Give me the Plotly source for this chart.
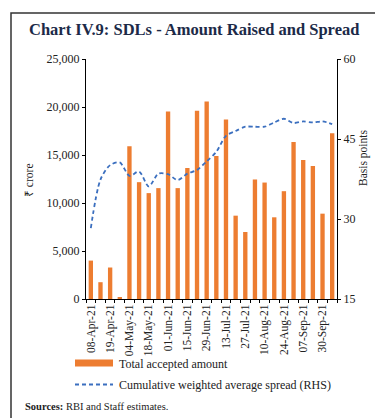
import plotly.graph_objects as go

# ---- data ----
dates = ["08-Apr-21", "13-Apr-21", "19-Apr-21", "27-Apr-21", "04-May-21", "11-May-21",
         "18-May-21", "25-May-21", "01-Jun-21", "08-Jun-21", "15-Jun-21", "22-Jun-21",
         "29-Jun-21", "06-Jul-21", "13-Jul-21", "20-Jul-21", "27-Jul-21", "03-Aug-21",
         "10-Aug-21", "17-Aug-21", "24-Aug-21", "31-Aug-21", "07-Sep-21", "14-Sep-21",
         "30-Sep-21", "05-Oct-21"]
amount_raised = [4000, 1750, 3280, 200, 15900, 12170, 11030, 11550, 19530, 11550,
                 13640, 19600, 20580, 14900, 18690, 8680, 6980, 12450, 12130, 8510,
                 11230, 16360, 14480, 13850, 8890, 17260]
spread_bp = [28.3, 37.4, 40.1, 40.6, 38.1, 38.9, 36.1, 38.5, 38.4, 37.3,
             38.5, 39.2, 40.8, 42.6, 45.6, 46.5, 47.3, 47.3, 47.3, 48.1,
             48.8, 48.0, 48.3, 48.1, 48.3, 47.8]
tick_text = [d if i % 2 == 0 else "" for i, d in enumerate(dates)]

# ---- layout helpers (pixel -> paper) ----
W, H = 383, 418
L, R, T, B = 78, 54, 51, 127
PW, PH = W - L - R, H - T - B
def px(x):
    return (x - L) / PW
def py(y):
    return (H - B - y) / PH

SERIF = "Liberation Serif, Times New Roman, serif"
TXT = "#222222"

fig = go.Figure()
fig.add_trace(go.Bar(x=dates, y=amount_raised, name="Total accepted amount",
                     marker=dict(color="#ED7D31", line=dict(width=0)),
                     showlegend=False))
fig.add_trace(go.Scatter(x=dates, y=spread_bp, yaxis="y2", mode="lines",
                         name="Cumulative weighted average spread (RHS)",
                         line=dict(color="#3B6FBF", width=1.8, dash="4px,3px",
                                   shape="spline", smoothing=0.8),
                         showlegend=False))

fig.update_layout(
    width=W, height=H,
    margin=dict(l=L, r=R, t=T, b=B),
    paper_bgcolor="white", plot_bgcolor="white",
    bargap=0.55,
    font=dict(family=SERIF, size=12, color=TXT),
    xaxis=dict(type="category", categoryorder="array", categoryarray=dates,
               tickmode="array", tickvals=dates, ticktext=tick_text,
               tickangle=-90, tickson="boundaries", ticks="outside", ticklen=3,
               tickcolor="#000", showline=True, linecolor="#000", linewidth=1,
               showgrid=False, tickfont=dict(family=SERIF, size=11.5, color=TXT),
               range=[-0.5, len(dates) - 0.5]),
    yaxis=dict(range=[0, 25000], dtick=5000, tickformat=",", showgrid=False,
               zeroline=False, showline=True, linecolor="#000", linewidth=1,
               ticks="outside", ticklen=3, tickcolor="#000",
               tickfont=dict(family=SERIF, size=12, color=TXT)),
    yaxis2=dict(range=[15, 60], dtick=15, overlaying="y", side="right", anchor="x",
                showgrid=False, zeroline=False, showline=True, linecolor="#000",
                linewidth=1, ticks="outside", ticklen=3, tickcolor="#000",
                tickfont=dict(family=SERIF, size=12, color=TXT)),
)

shapes = [
    # outer frame
    dict(type="rect", xref="paper", yref="paper",
         x0=px(3), x1=px(378), y0=py(412), y1=py(5),
         line=dict(color="#333333", width=1.5), fillcolor="rgba(0,0,0,0)"),
    # legend: bar swatch
    dict(type="rect", xref="paper", yref="paper",
         x0=px(67), x1=px(105), y0=py(358.5), y1=py(351.5),
         line=dict(width=0), fillcolor="#ED7D31"),
    # legend: dashed line
    dict(type="line", xref="paper", yref="paper",
         x0=px(67), x1=px(105), y0=py(376.5), y1=py(376.5),
         line=dict(color="#3B6FBF", width=1.8, dash="4px,3px")),
]

annotations = [
    dict(text="<b>Chart IV.9: SDLs - Amount Raised and Spread</b>", xref="paper", yref="paper",
         x=px(186), y=py(21), xanchor="center", yanchor="middle", showarrow=False,
         font=dict(family=SERIF, size=16.5, color="#1c2a48")),
    dict(text="₹ crore", xref="paper", yref="paper", x=px(21), y=py(172),
         xanchor="center", yanchor="middle", textangle=-90, showarrow=False,
         font=dict(family=SERIF, size=11.5, color=TXT)),
    dict(text="Basis points", xref="paper", yref="paper", x=px(355), y=py(150),
         xanchor="center", yanchor="middle", textangle=-90, showarrow=False,
         font=dict(family=SERIF, size=11.5, color=TXT)),
    dict(text="Total accepted amount", xref="paper", yref="paper", x=px(109), y=py(355.5),
         xanchor="left", yanchor="middle", showarrow=False,
         font=dict(family=SERIF, size=12, color=TXT)),
    dict(text="Cumulative weighted average spread (RHS)", xref="paper", yref="paper",
         x=px(109), y=py(377), xanchor="left", yanchor="middle", showarrow=False,
         font=dict(family=SERIF, size=12, color=TXT)),
    dict(text="<b>Sources:</b> RBI and Staff estimates.", xref="paper", yref="paper",
         x=px(15), y=py(398), xanchor="left", yanchor="middle", showarrow=False,
         font=dict(family=SERIF, size=10.5, color=TXT)),
]
fig.update_layout(shapes=shapes, annotations=annotations)

fig.write_html("out.html")
